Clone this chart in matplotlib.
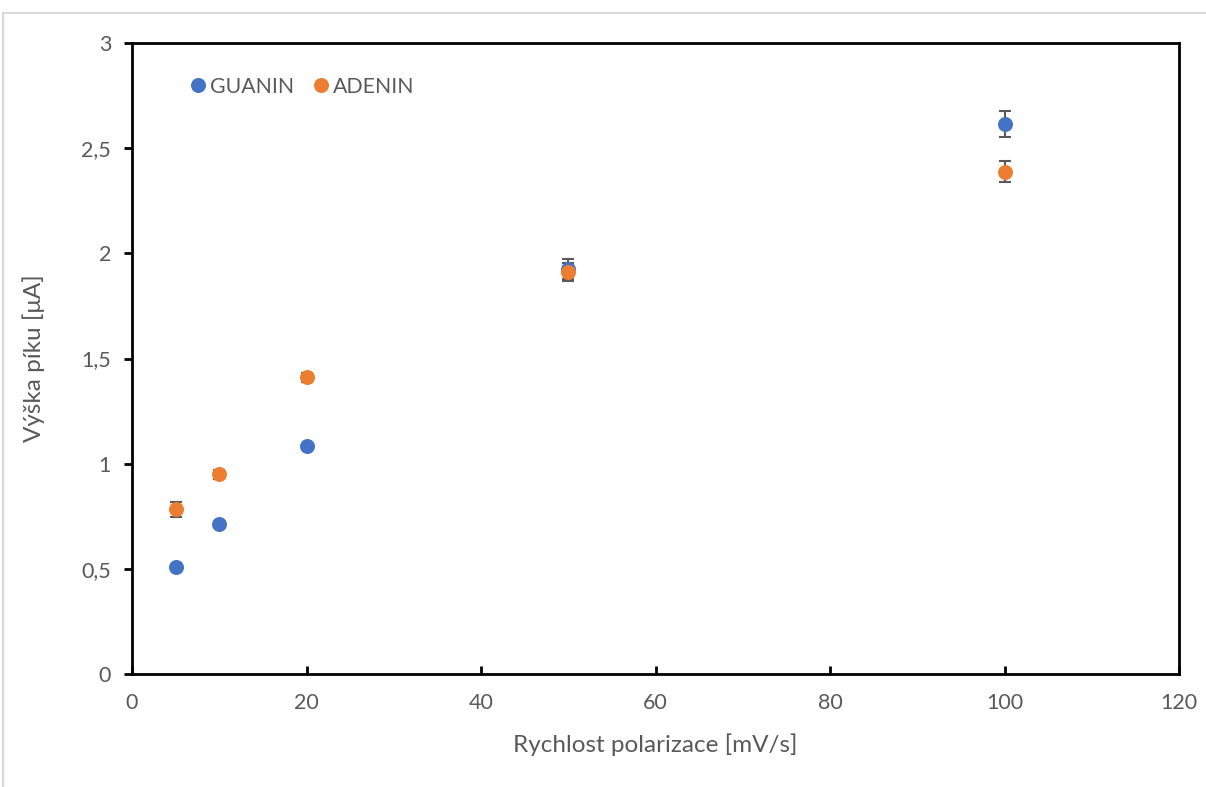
import matplotlib
matplotlib.use("Agg")
import matplotlib.pyplot as plt
from matplotlib.ticker import FuncFormatter, MultipleLocator
from matplotlib.lines import Line2D

# Scan rate [mV/s]
scan_rate = [5, 10, 20, 50, 100]

# Peak heights [uA] with standard deviations
guanin = [0.508, 0.712, 1.082, 1.925, 2.615]
guanin_err = [0.01, 0.01, 0.01, 0.047, 0.062]
adenin = [0.783, 0.949, 1.41, 1.913, 2.388]
adenin_err = [0.036, 0.02, 0.02, 0.043, 0.05]

blue = "#4472C4"
orange = "#ED7D31"
text_gray = "#595959"

plt.rcParams["font.family"] = ["Lato", "DejaVu Sans"]

fig = plt.figure(figsize=(12.06, 7.87), dpi=100)
ax = fig.add_axes([132 / 1206, 1 - 674 / 787, (1179 - 132) / 1206, (674 - 43) / 787])

for vals, errs, color, label in [
    (guanin, guanin_err, blue, "GUANIN"),
    (adenin, adenin_err, orange, "ADENIN"),
]:
    ax.errorbar(scan_rate, vals, yerr=errs, fmt="none", ecolor=text_gray,
                elinewidth=1.5, capsize=4.3, capthick=1.5, zorder=2)
    ax.plot(scan_rate, vals, linestyle="none", marker="o", markersize=10.8,
            color=color, markeredgewidth=0, label=label, zorder=3)

ax.set_xlim(0, 120)
ax.set_ylim(0, 3)
ax.xaxis.set_major_locator(MultipleLocator(20))
ax.yaxis.set_major_locator(MultipleLocator(0.5))
ax.yaxis.set_major_formatter(FuncFormatter(lambda v, p: f"{v:g}".replace(".", ",")))

for side in ax.spines.values():
    side.set_linewidth(2)
    side.set_color("black")

ax.tick_params(axis="y", direction="out", length=6, width=2, colors="black",
               labelcolor=text_gray, labelsize=15.5, pad=9)
ax.tick_params(axis="x", direction="in", length=6, width=2, colors="black",
               labelcolor=text_gray, labelsize=15.5, pad=14)

ax.set_xlabel("Rychlost polarizace [mV/s]", fontsize=17.5, color=text_gray, labelpad=14)
ax.set_ylabel("Výška píku [μA]", fontsize=17.5, color=text_gray, labelpad=26)

ax.legend(loc="upper left", bbox_to_anchor=(0.035, 0.977), ncol=2, frameon=False,
          fontsize=15.3, labelcolor=text_gray, handletextpad=0.05, columnspacing=0.75,
          handlelength=1.0, markerscale=1.0)

# Outer frame of the chart area
fig.add_artist(Line2D([3.5 / 1206, 1], [1 - 12.5 / 787, 1 - 12.5 / 787],
                      color="#d9d9d9", linewidth=1.5, transform=fig.transFigure))
fig.add_artist(Line2D([3.5 / 1206, 3.5 / 1206], [0, 1 - 12.5 / 787],
                      color="#d9d9d9", linewidth=1.5, transform=fig.transFigure))

fig.savefig("out.png", dpi=100)
